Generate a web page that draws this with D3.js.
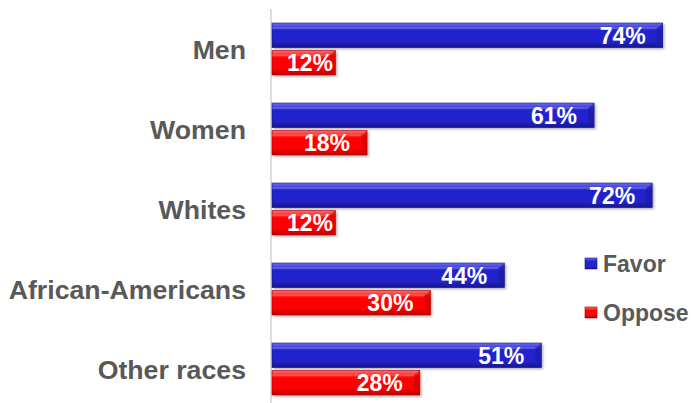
<!DOCTYPE html>
<html><head><meta charset="utf-8">
<script src="https://cdn.jsdelivr.net/npm/d3@7/dist/d3.min.js"></script>
<style>
html,body{margin:0;padding:0;background:#fff;}
svg{display:block;font-family:"Liberation Sans",Arial,sans-serif;}
</style></head>
<body>
<svg id="chart" width="691" height="403"></svg>
<script>
const categories = ["Men", "Women", "Whites", "African-Americans", "Other races"];
const seriesNames = ["Favor", "Oppose"];
const favor = [74, 61, 72, 44, 51];
const oppose = [12, 18, 12, 30, 28];
const seriesValues = [favor, oppose];

const W = 691, H = 403;
const svg = d3.select("#chart");
const defs = svg.append("defs");

const palettes = {
  Favor: {top:"#6a6af2", mid:"#2424cc", bot:"#15158a", stroke:"#14147a", end:"#1a1aa0"},
  Oppose: {top:"#ff7070", mid:"#ff0606", bot:"#b80000", stroke:"#9e0000", end:"#cc0000"}
};
seriesNames.forEach(s => {
  const p = palettes[s];
  const g = defs.append("linearGradient").attr("id", "g-" + s)
    .attr("x1", 0).attr("y1", 0).attr("x2", 0).attr("y2", 1);
  g.append("stop").attr("offset", "0%").attr("stop-color", p.top);
  g.append("stop").attr("offset", "30%").attr("stop-color", p.mid);
  g.append("stop").attr("offset", "75%").attr("stop-color", p.mid);
  g.append("stop").attr("offset", "100%").attr("stop-color", p.bot);
});
const flt = defs.append("filter").attr("id", "shadow").attr("x", "-5%").attr("y", "-20%").attr("width", "115%").attr("height", "160%");
flt.append("feDropShadow").attr("dx", 1.5).attr("dy", 1.5).attr("stdDeviation", 1).attr("flood-color", "#000").attr("flood-opacity", 0.3);

const x = d3.scaleLinear().domain([0, 100]).range([272, 800]);
const y = d3.scaleBand().domain(categories).range([9, 409]).paddingInner(0.35).paddingOuter(0.175);
const ys = d3.scaleBand().domain(seriesNames).range([0, y.bandwidth()]).paddingInner(0.1);

// axis line
svg.append("line").attr("x1", x(0) - 1).attr("x2", x(0) - 1)
  .attr("y1", 9).attr("y2", H).attr("stroke", "#d0d0d0").attr("stroke-width", 1.5);

// category labels
svg.append("g").selectAll("text").data(categories).join("text")
  .attr("x", 246)
  .attr("y", d => y(d) + y.bandwidth() / 2)
  .attr("dy", "0.36em")
  .attr("text-anchor", "end")
  .attr("font-size", 26.7).attr("font-weight", "bold").attr("fill", "#595959")
  .text(d => d);

const rows = [];
categories.forEach((c, i) => seriesNames.forEach((s, j) => rows.push({cat: c, s, v: seriesValues[j][i]})));

const bars = svg.append("g").selectAll("g").data(rows).join("g");
bars.append("rect")
  .attr("x", x(0))
  .attr("y", d => y(d.cat) + ys(d.s))
  .attr("width", d => x(d.v) - x(0))
  .attr("height", ys.bandwidth())
  .attr("fill", d => "url(#g-" + d.s + ")")
  .attr("stroke", d => palettes[d.s].stroke).attr("stroke-width", 0.6)
  .attr("filter", "url(#shadow)");
// bevel on right end
bars.append("path")
  .attr("d", d => {
    const x1 = x(d.v), y0 = y(d.cat) + ys(d.s), h = ys.bandwidth(), b = 6;
    return `M${x1},${y0}L${x1 - b},${y0 + b}L${x1 - b},${y0 + h - b}L${x1},${y0 + h}Z`;
  })
  .attr("fill", d => palettes[d.s].end).attr("opacity", 0.6);
// top highlight line
bars.append("line")
  .attr("x1", x(0)).attr("x2", d => x(d.v) - 6)
  .attr("y1", d => y(d.cat) + ys(d.s) + 5).attr("y2", d => y(d.cat) + ys(d.s) + 5)
  .attr("stroke", "#fff").attr("stroke-opacity", 0.15).attr("stroke-width", 2);

// value labels
bars.append("text")
  .attr("y", d => y(d.cat) + ys(d.s) + ys.bandwidth() / 2)
  .attr("dy", "0.36em")
  .attr("text-anchor", "end")
  .attr("font-size", 23).attr("font-weight", "bold").attr("fill", "#fff")
  .text(d => d.v + "%")
  .attr("x", function(d) {
    const w = this.getComputedTextLength();
    return Math.max(x(d.v) - 17, x(0) + 15 + w);
  });

// legend
const leg = svg.append("g").selectAll("g").data(seriesNames).join("g")
  .attr("transform", (d, i) => `translate(585,${258 + i * 49})`);
leg.append("rect").attr("width", 12).attr("height", 11)
  .attr("fill", d => "url(#g-" + d + ")").attr("stroke", d => palettes[d].stroke).attr("stroke-width", 0.6);
leg.append("text").attr("x", 18).attr("y", 5.5).attr("dy", "0.36em")
  .attr("font-size", 23).attr("font-weight", "bold").attr("fill", "#595959")
  .text(d => d);
</script>
</body></html>
